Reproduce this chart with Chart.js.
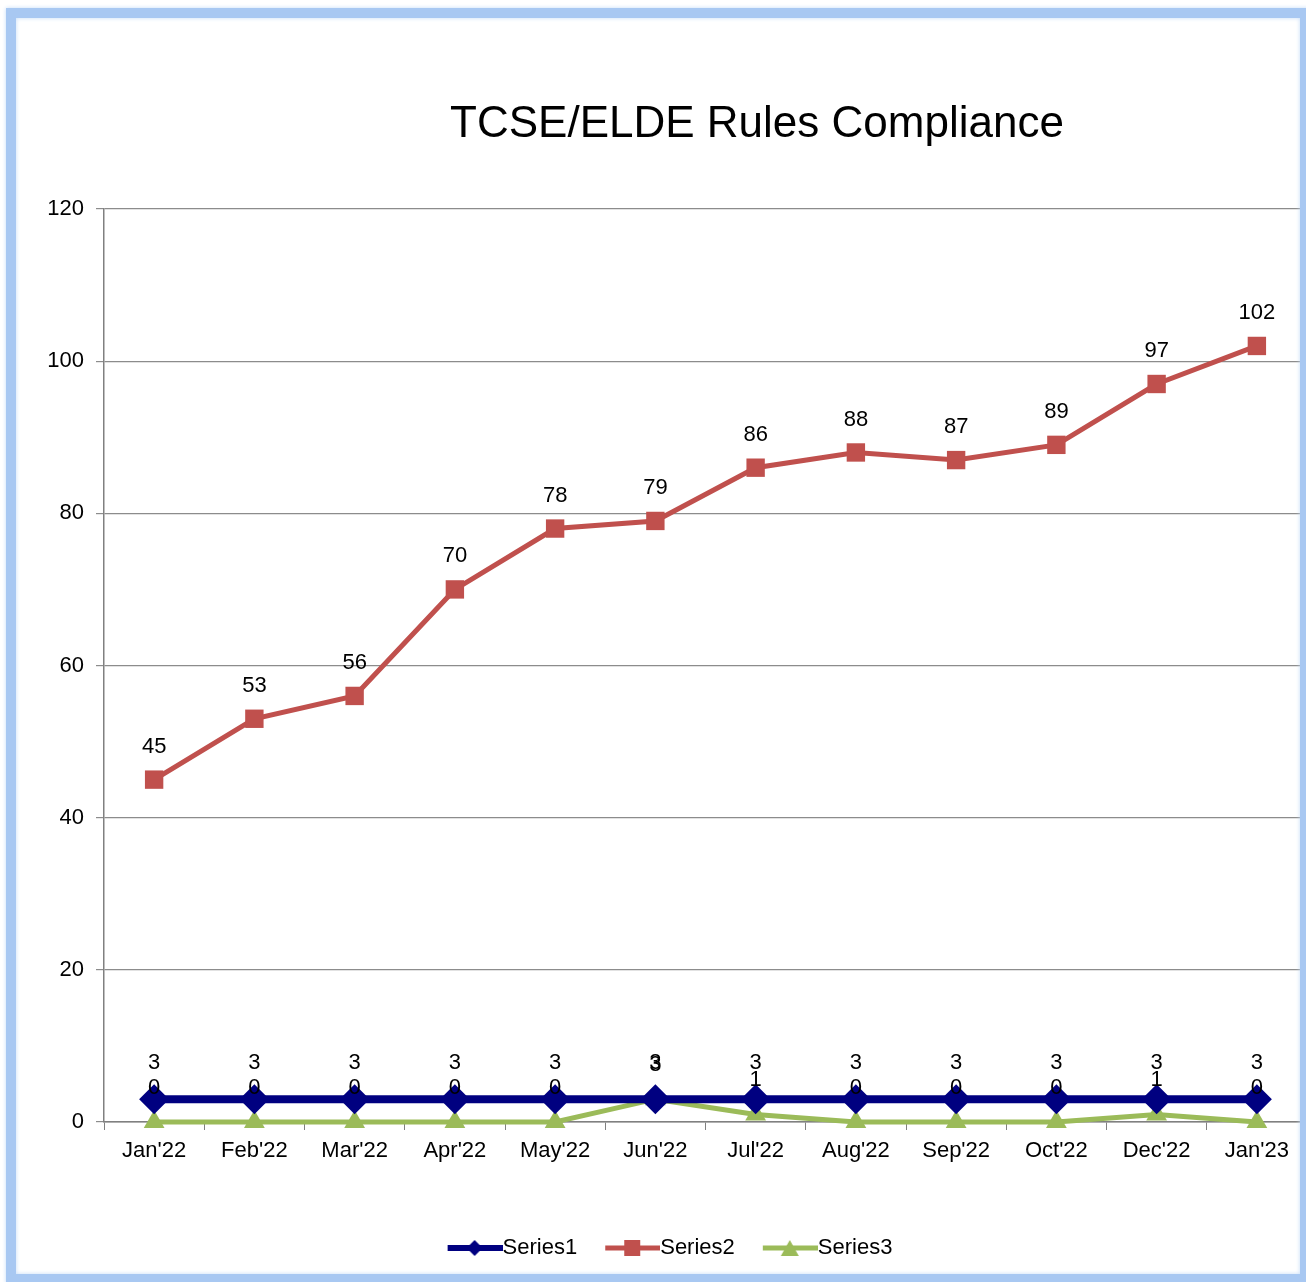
<!DOCTYPE html>
<html>
<head>
<meta charset="utf-8">
<script src="https://cdn.jsdelivr.net/npm/chart.js@4.4.1/dist/chart.umd.min.js"></script>
<style>
  html, body { margin: 0; padding: 0; background: #fff; overflow: hidden; }
  #wrap { position: relative; width: 1306px; height: 1282px; overflow: hidden; }
  #frame {
    position: absolute; left: 6px; top: 8px; width: 1284px; height: 1256px;
    border: 10px solid #a8c8f2; box-shadow: 0 0 4px #c4dcf8, inset 0 0 4px #c4dcf8;
    pointer-events: none;
  }
  #titulo {
    position: absolute; left: 0; top: 97px; width: 1514px; text-align: center;
    font-family: "Liberation Sans", Arial, sans-serif; font-size: 44px; color: #000;
  }
</style>
</head>
<body>
<div id="wrap">
  <canvas id="grafico" width="1322" height="1282"></canvas>
  <div id="titulo">TCSE/ELDE Rules Compliance</div>
  <div id="frame"></div>
</div>
<script>
const meses = ["Jan'22", "Feb'22", "Mar'22", "Apr'22", "May'22", "Jun'22", "Jul'22", "Aug'22", "Sep'22", "Oct'22", "Dec'22", "Jan'23"];
const serie1 = [3, 3, 3, 3, 3, 3, 3, 3, 3, 3, 3, 3];
const serie2 = [45, 53, 56, 70, 78, 79, 86, 88, 87, 89, 97, 102];
const serie3 = [0, 0, 0, 0, 0, 3, 1, 0, 0, 0, 1, 0];
const ticksY = [0, 20, 40, 60, 80, 100, 120];

const fonte = "'Liberation Sans', Arial, sans-serif";

// icone da legenda: linha com o marcador, encostada no texto
function iconeLegenda(cor, estilo, largura) {
  const c = document.createElement('canvas');
  c.width = 84; c.height = 20;
  const g = c.getContext('2d');
  g.strokeStyle = cor; g.fillStyle = cor; g.lineWidth = largura;
  g.beginPath(); g.moveTo(29, 10); g.lineTo(84, 10); g.stroke();
  const m = 56;
  g.beginPath();
  if (estilo === 'rectRot') {
    g.moveTo(m, 2); g.lineTo(m + 8, 10); g.lineTo(m, 18); g.lineTo(m - 8, 10);
  } else if (estilo === 'rect') {
    g.rect(m - 8, 2, 16, 16);
  } else {
    g.moveTo(m, 2); g.lineTo(m + 9, 18); g.lineTo(m - 9, 18);
  }
  g.closePath(); g.fill();
  return c;
}

// rotulos de valor acima dos pontos
const rotulos = {
  id: 'rotulos',
  afterDatasetsDraw(chart) {
    const ctx = chart.ctx;
    ctx.save();
    ctx.font = '22px ' + fonte;
    ctx.fillStyle = '#000';
    ctx.textAlign = 'center';
    ctx.textBaseline = 'middle';
    chart.data.datasets.forEach((ds, i) => {
      const meta = chart.getDatasetMeta(i);
      meta.data.forEach((p, j) => {
        ctx.fillText(String(ds.data[j]), p.x, p.y - ds.desvioRotulo);
      });
    });
    ctx.restore();
  }
};

const cores = ['#000080', '#c0504d', '#9bbb59'];

const ctx = document.getElementById('grafico');
let grafico = new Chart(ctx, {
  type: 'line',
  data: {
    labels: meses,
    datasets: [
      {
        label: 'Series1', data: serie1, borderColor: cores[0], backgroundColor: cores[0],
        borderWidth: 8, pointStyle: 'rectRot', pointRadius: 15, pointBorderWidth: 0,
        desvioRotulo: 36, order: 1, clip: false
      },
      {
        label: 'Series2', data: serie2, borderColor: cores[1], backgroundColor: cores[1],
        borderWidth: 5, pointStyle: 'rect', pointRadius: 13, pointBorderWidth: 0,
        desvioRotulo: 33, order: 2, clip: false
      },
      {
        label: 'Series3', data: serie3, borderColor: cores[2], backgroundColor: cores[2],
        borderWidth: 5, pointStyle: 'triangle', pointRadius: 12, pointBorderWidth: 0,
        desvioRotulo: 34, order: 3, clip: false
      }
    ]
  },
  options: {
    responsive: false,
    animation: false,
    layout: { padding: { left: 0, top: 209, right: 0, bottom: 13 } },
    elements: { line: { tension: 0 } },
    scales: {
      x: {
        offset: true,
        grid: { offset: true, drawOnChartArea: false, tickLength: 8, color: '#808080' },
        border: { color: '#808080', width: 1.5 },
        ticks: { color: '#000', font: { family: fonte, size: 22 }, padding: 8, maxRotation: 0, autoSkip: false },
        afterFit(s) { s.height = 105; }
      },
      y: {
        min: 0, max: 120,
        afterBuildTicks(s) { s.ticks = ticksY.map(v => ({ value: v })); },
        grid: { color: '#8c8c8c', lineWidth: 1.2, tickLength: 8 },
        border: { color: '#808080', width: 1.5 },
        ticks: { color: '#000', font: { family: fonte, size: 22 }, padding: 12 },
        afterFit(s) { s.width = 104; }
      }
    },
    plugins: {
      title: { display: false },
      tooltip: { enabled: false },
      legend: {
        position: 'bottom',
        labels: {
          color: '#000',
          font: { family: fonte, size: 22 },
          usePointStyle: true,
          pointStyleWidth: 62,
          padding: 10,
          generateLabels(chart) {
            return chart.data.datasets.map((ds, i) => ({
              text: ds.label,
              pointStyle: iconeLegenda(cores[i], ds.pointStyle, i === 0 ? 6 : 5),
              fillStyle: cores[i], strokeStyle: cores[i], lineWidth: 0,
              fontColor: '#000', hidden: false, datasetIndex: i
            }));
          }
        }
      }
    }
  },
  plugins: [rotulos]
});
</script>
</body>
</html>
